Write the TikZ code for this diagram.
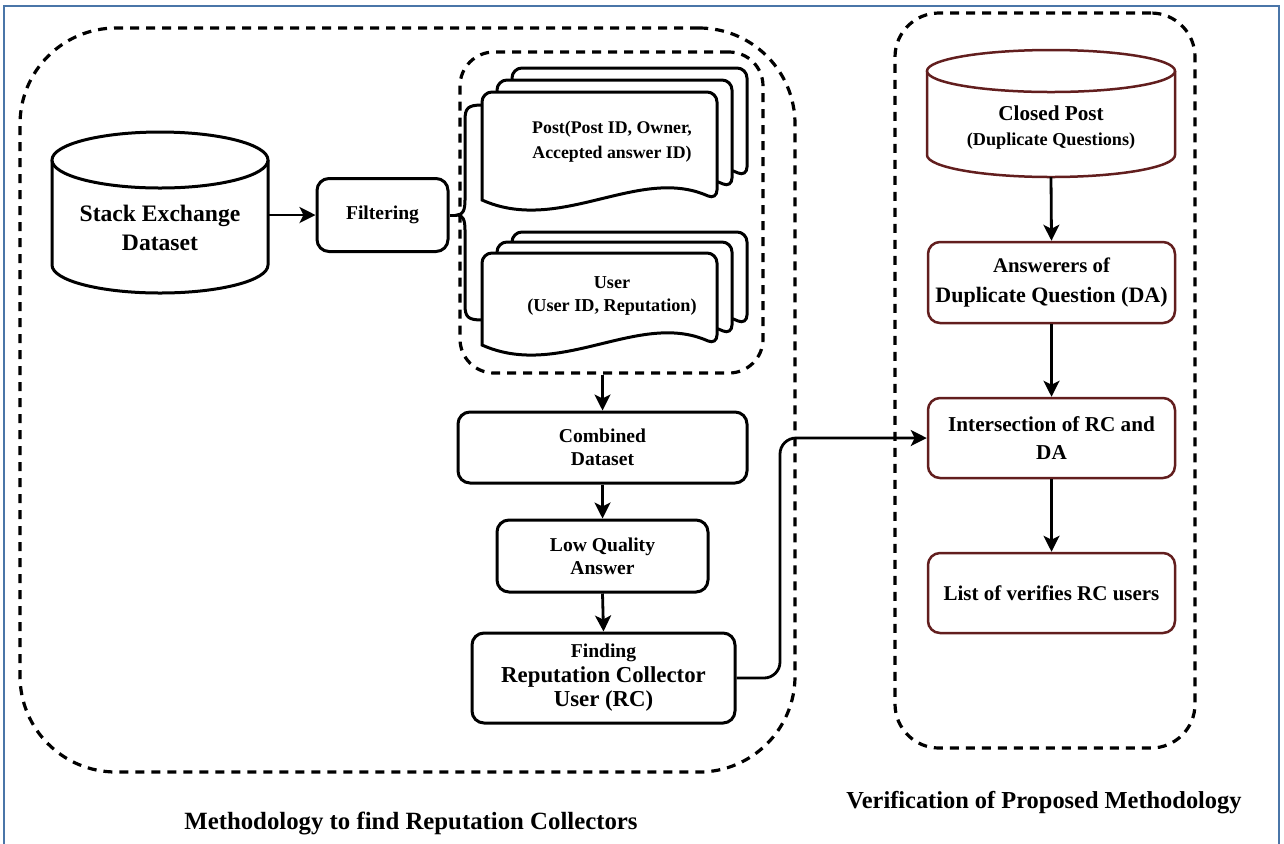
\documentclass[tikz,border=0pt]{standalone}
\usepackage{fontspec}
\setmainfont{Liberation Serif}
\usetikzlibrary{arrows.meta,calc}
\definecolor{framecol}{RGB}{74,117,168}
\definecolor{maroonc}{RGB}{98,30,30}
\newcommand{\fs}[2]{\fontsize{#1}{#2}\selectfont}
\newcommand{\docshape}[4]{%
  \draw[docline] (#1,#4) [rounded corners=5pt] -- (#1,#2) -- (#3,#2) -- (#3,#4) [sharp corners]
    .. controls ($(#3,#4)+(-78,-35)$) and ($(#1,#4)+(78,35)$) .. (#1,#4) -- cycle;}
\begin{document}
\begin{tikzpicture}[x=0.5pt,y=-0.5pt,
  box/.style={draw, line width=1.5pt, rounded corners=6pt, fill=white, align=center, font=\bfseries, inner sep=0pt},
  rbox/.style={box, draw=maroonc, line width=1.25pt},
  grpline/.style={draw, line width=1.6pt, dash pattern=on 4.5pt off 3.5pt, inner sep=0pt},
  arr/.style={line width=1.4pt, -{Stealth[length=8pt,width=8pt,inset=2pt]}},
  txt/.style={align=center, font=\bfseries, inner sep=0pt},
  docline/.style={draw, line width=1.5pt, fill=white},
  ghost/.style={inner sep=0pt, outer sep=0pt}
]
\useasboundingbox (0,0) rectangle (1284,843);
\draw[framecol, line width=1.3pt] (4,850) -- (4,6) -- (1279,6) -- (1279,850);

% containers
\node[grpline, rounded corners=48pt, minimum width=387.5pt, minimum height=372pt] (methgrp) at (407.5,400) {};
\node[grpline, rounded corners=22pt, minimum width=150pt, minimum height=367.5pt] (vergrp) at (1045,380.5) {};
\node[grpline, rounded corners=17pt, minimum width=151.5pt, minimum height=160.5pt] (inner) at (611.5,212.5) {};

% documents
\docshape{512}{68}{747}{177}
\docshape{497}{80}{732}{188}
\docshape{482}{92}{717}{200}
\docshape{512}{232}{747}{325}
\docshape{497}{242}{732}{335}
\docshape{482}{253}{717}{345}
\node[txt, font=\bfseries\fs{8.9}{12.5}] (post) at (612,142) {Post(Post ID, Owner,\\Accepted answer ID)};
\node[txt, font=\bfseries\fs{9.1}{11.5}] (user) at (612,296) {User\\(User ID, Reputation)};

% brace
\coordinate (tip) at (457,215);
\draw[line width=1.5pt] (482,105) .. controls (468,105) and (465,108) .. (465,120) -- (465,200)
  .. controls (465,210) and (463,215) .. (tip) .. controls (463,215) and (465,220) .. (465,230)
  -- (465,305) .. controls (465,317) and (468,320) .. (482,320);

% Stack Exchange cylinder
\draw[line width=1.5pt, fill=white] (52,160) -- (52,265) arc[start angle=180,end angle=360,x radius=54pt,y radius=14pt] -- (268,160);
\draw[line width=1.5pt, fill=white] (160,160) ellipse [x radius=54pt, y radius=14pt];
\node[ghost, minimum width=108pt, minimum height=52.5pt] (sed) at (160,212.5) {};
\node[txt, font=\bfseries\fs{11.8}{14.5}] (sedtxt) at (160,227.5) {Stack Exchange\\Dataset};

\node[box, font=\bfseries\fs{9.8}{12}, minimum width=65.5pt, minimum height=36.5pt] (filt) at (382.5,215) {Filtering};
\draw[arr] (sed.east |- filt.west) -- (filt.west);
\draw[line width=1.5pt] (filt.east) -- (tip);

% left column
\node[box, font=\bfseries\fs{9.8}{11.5}, minimum width=144.5pt, minimum height=35.5pt] (comb) at (602.5,447.5) {Combined\\Dataset};
\node[box, font=\bfseries\fs{9.8}{11.5}, minimum width=105.5pt, minimum height=36pt] (lqa) at (602.5,556) {Low Quality\\Answer};
\node[box, font=\bfseries\fs{11.4}{12.2}, minimum width=131.5pt, minimum height=45pt] (find) at (603.5,678) {{\fs{9.8}{12}Finding}\\Reputation Collector\\User (RC)};
\draw[arr] (comb.north |- inner.south) -- (comb.north);
\draw[arr] (comb.south) -- (lqa.north);
\draw[arr] (lqa.south) -- (find.north);

% right column
\draw[maroonc, line width=1.25pt, fill=white] (927,71) -- (927,155) arc[start angle=180,end angle=360,x radius=62pt,y radius=11pt] -- (1175,71);
\draw[maroonc, line width=1.25pt, fill=white] (1051,71) ellipse [x radius=62pt,y radius=10.5pt];
\node[ghost, minimum width=124pt, minimum height=53pt] (cp) at (1051,124) {};
\node[txt, font=\bfseries\fs{9.1}{12.5}] (cptxt) at (1051,127.5) {{\fs{10.6}{12.5}Closed Post}\\(Duplicate Questions)};
\node[rbox, font=\bfseries\fs{11}{15}, minimum width=123.5pt, minimum height=40.5pt] (ans) at (1051.5,282.5) {{\fs{10.4}{15}Answerers of}\\Duplicate Question (DA)};
\node[rbox, font=\bfseries\fs{10.6}{14}, minimum width=123.5pt, minimum height=40pt] (int) at (1051.5,438) {Intersection of RC and\\DA};
\node[rbox, font=\bfseries\fs{10.5}{13}, minimum width=123.5pt, minimum height=40pt] (lst) at (1051.5,593) {List of verifies RC users};
\draw[arr] (cp.south) -- (ans.north);
\draw[arr] (ans.south) -- (int.north);
\draw[arr] (int.south) -- (lst.north);

\coordinate (bend) at (780,560);
\draw[arr, rounded corners=8pt] (find.east) -| (bend) |- (int.west);

% labels
\node[txt, font=\bfseries\fs{12.4}{14}] (lbl1) at (411,823) {Methodology to find Reputation Collectors};
\node[txt, font=\bfseries\fs{12.2}{14}] (lbl2) at (1044,803) {Verification of Proposed Methodology};
\end{tikzpicture}
\end{document}
